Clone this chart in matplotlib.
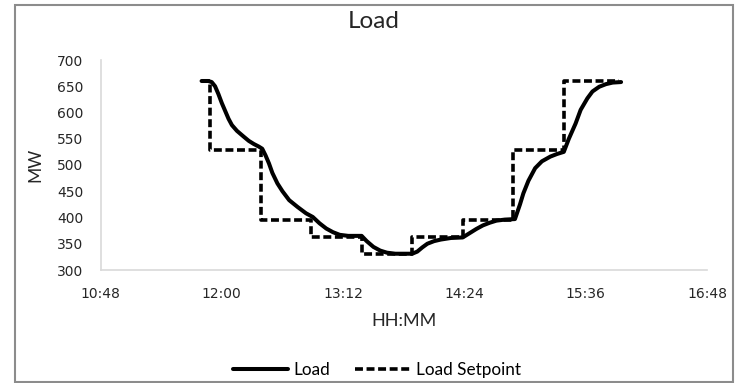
import matplotlib
matplotlib.use("Agg")
from matplotlib import pyplot as plt
from matplotlib.patches import Rectangle
from matplotlib.ticker import FuncFormatter, FixedLocator

# load curve (time, MW)
load_times = ["11:48", "11:52", "11:54", "11:56", "11:58", "12:00", "12:02", "12:04",
              "12:06", "12:09", "12:13", "12:16", "12:19", "12:22", "12:24", "12:26",
              "12:28", "12:30", "12:33", "12:36", "12:40", "12:45", "12:50", "12:54",
              "12:58", "13:02", "13:06", "13:10", "13:15", "13:23", "13:26", "13:30",
              "13:34", "13:38", "13:43", "13:53", "13:56", "13:59", "14:02", "14:06",
              "14:10", "14:16", "14:23", "14:27", "14:31", "14:35", "14:39", "14:43",
              "14:48", "14:54", "14:57", "14:59", "15:02", "15:06", "15:10", "15:15",
              "15:19", "15:23", "15:26", "15:30", "15:33", "15:37", "15:40", "15:44",
              "15:48", "15:52", "15:57"]
load_mw = [660, 660, 658, 650, 635, 618, 603, 588,
           576, 565, 554, 546, 540, 535, 531, 518,
           503, 485, 465, 450, 433, 420, 408, 401,
           389, 379, 372, 367, 365, 365, 355, 344,
           337, 333, 331, 331, 335, 343, 350, 355,
           358, 361, 362, 370, 378, 385, 390, 394,
           396, 397, 425, 446, 470, 494, 507, 516,
           521, 525, 550, 579, 605, 627, 640, 649,
           654, 657, 658]

# setpoint steps
setpoint_times = ["11:48", "11:53", "12:23", "12:53", "13:23", "13:53", "14:23", "14:53", "15:23", "15:56"]
setpoint_mw = [660, 528, 396, 363, 330, 363, 396, 528, 660, 660]

x_ticks = ["10:48", "12:00", "13:12", "14:24", "15:36", "16:48"]
y_ticks = [300, 350, 400, 450, 500, 550, 600, 650, 700]


def to_min(s):
    h, m = s.split(":")
    return int(h) * 60 + int(m)


def fmt_time(v, pos):
    v = int(round(v))
    return "%d:%02d" % (v // 60, v % 60)


def main():
    fig = plt.figure(figsize=(7.35, 3.83), dpi=100)
    ax = fig.add_axes([100.5 / 735, 1 - 270 / 383, (707 - 100.5) / 735, 210 / 383])

    lx = [to_min(t) for t in load_times]
    sx = [to_min(t) for t in setpoint_times]

    ax.plot(sx, setpoint_mw, color="black", lw=2.6, drawstyle="steps-post",
            dashes=(2.2, 1.0), dash_capstyle="butt", label="Load Setpoint", zorder=2)
    ax.plot(lx, load_mw, color="black", lw=2.9, solid_joinstyle="round",
            solid_capstyle="round", label="Load", zorder=3)

    tick_min = [to_min(t) for t in x_ticks]
    ax.set_xlim(tick_min[0], tick_min[-1])
    ax.set_ylim(300, 700)
    ax.xaxis.set_major_locator(FixedLocator(tick_min))
    ax.xaxis.set_major_formatter(FuncFormatter(fmt_time))
    ax.set_yticks(y_ticks)

    for side in ["top", "right"]:
        ax.spines[side].set_visible(False)
    for side in ["bottom", "left"]:
        ax.spines[side].set_color("#d9d9d9")
        ax.spines[side].set_linewidth(1.2)
    ax.tick_params(length=0, labelsize=10, colors="#262626")
    ax.tick_params(axis="x", pad=12)
    ax.tick_params(axis="y", pad=12.5)
    for lab in ax.get_xticklabels() + ax.get_yticklabels():
        lab.set_fontfamily("DejaVu Sans")

    ax.set_xlabel("HH:MM", fontsize=13, family="Lato", color="#262626", labelpad=9)
    ax.set_ylabel("MW", fontsize=12.5, family="Lato", color="#262626", labelpad=10)

    fig.text(374 / 735, 1 - 21 / 383, "Load", ha="center", va="center",
             fontsize=17.5, family="Lato", color="#262626")

    h, l = ax.get_legend_handles_labels()
    fig.legend(h[::-1], l[::-1], loc="center", bbox_to_anchor=(377 / 735, 1 - 370 / 383),
               ncol=2, frameon=False, handlelength=3.2, handletextpad=0.35,
               columnspacing=1.45, prop={"family": "Lato", "size": 12.3})

    fig.patches.append(Rectangle((15 / 735, 1 - 382 / 383), 718 / 735, 377 / 383,
                                 transform=fig.transFigure, fill=False,
                                 edgecolor="#8c8c8c", lw=1.5))

    fig.savefig("out.png", dpi=100)


if __name__ == '__main__':
    main()
